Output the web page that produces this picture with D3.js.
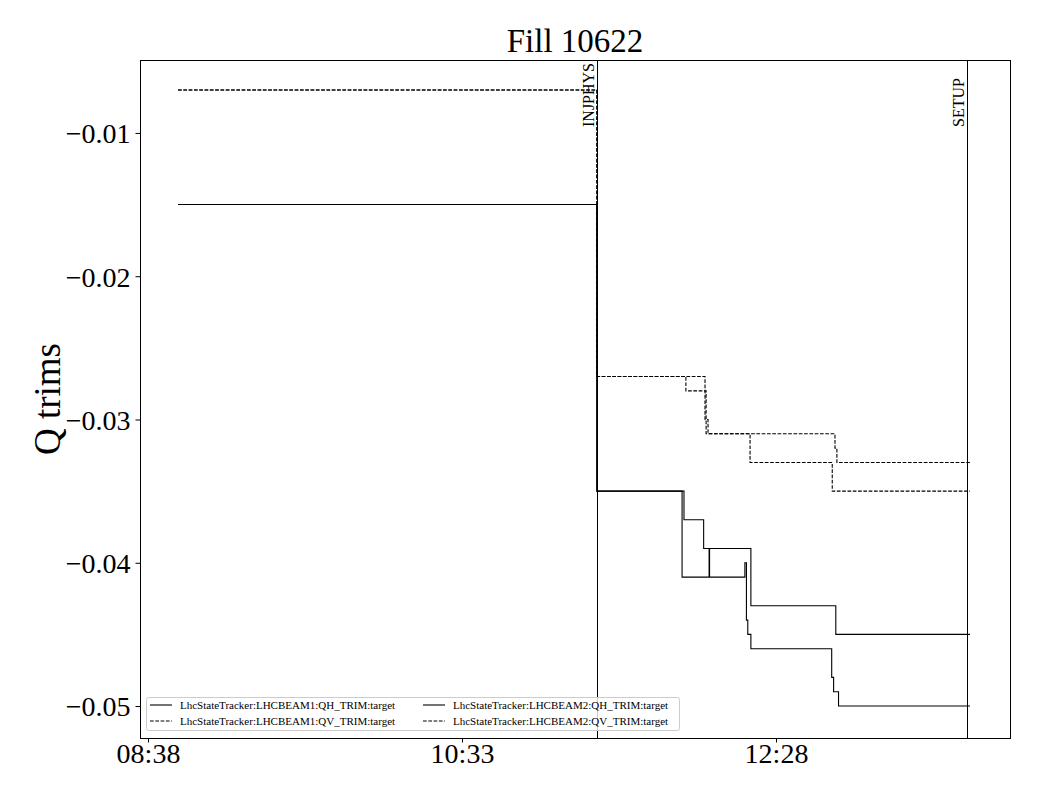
<!DOCTYPE html>
<html><head><meta charset="utf-8">
<script src="https://cdn.jsdelivr.net/npm/d3@7"></script>
<style>body{margin:0;background:#fff} svg{display:block} text{font-family:"Liberation Serif","DejaVu Serif",serif;fill:#000}</style>
</head><body><svg id="c" width="1040" height="800"></svg>
<script>
const title = "Fill 10622";
const yLabel = "Q trims";
const seriesNames = [
  "LhcStateTracker:LHCBEAM1:QH_TRIM:target",
  "LhcStateTracker:LHCBEAM1:QV_TRIM:target",
  "LhcStateTracker:LHCBEAM2:QH_TRIM:target",
  "LhcStateTracker:LHCBEAM2:QV_TRIM:target"
];
const seriesDashed = [false, true, false, true];

const b1qhTimes  = ["08:49:00","11:22:24","11:54:18","12:01:30","12:18:48","12:49:54","13:39:03"];
const b1qhValues = [-0.015, -0.035, -0.037, -0.039, -0.043, -0.045, -0.045];

const b1qvTimes  = ["08:49:00","11:22:24","11:55:00","12:02:24","12:18:30","12:48:36","13:39:03"];
const b1qvValues = [-0.007, -0.027, -0.028, -0.031, -0.033, -0.035, -0.035];

const b2qhTimes  = ["08:49:00","11:22:24","11:53:36","12:03:30","12:03:40","12:16:36","12:17:10","12:17:40","12:18:48","12:48:24","12:49:06","12:50:54","13:39:03"];
const b2qhValues = [-0.015, -0.035, -0.041, -0.039, -0.041, -0.040, -0.044, -0.045, -0.046, -0.048, -0.049, -0.050, -0.050];

const b2qvTimes  = ["08:49:00","11:22:24","12:02:00","12:03:06","12:49:36","12:50:18","13:39:03"];
const b2qvValues = [-0.007, -0.027, -0.030, -0.031, -0.032, -0.033, -0.033];

const eventNames = ["INJPHYS", "SETUP"];
const eventTimes = ["11:22:24", "13:38:00"];

const xDomainTimes = ["08:35:04", "13:53:42"];
const xTickLabels = ["08:38", "10:33", "12:28"];
const yDomain = [-0.05223, -0.00491];
const yTickValues = [-0.01, -0.02, -0.03, -0.04, -0.05];

const parse = d3.timeParse("%H:%M:%S");
const parseHM = d3.timeParse("%H:%M");

const svg = d3.select("#c");
const m = {left:140, right:1010, top:60, bottom:738};

const x = d3.scaleTime().domain(xDomainTimes.map(parse)).range([m.left, m.right]);
const y = d3.scaleLinear().domain(yDomain).range([m.bottom, m.top]);

const seriesTimes = [b1qhTimes, b1qvTimes, b2qhTimes, b2qvTimes];
const seriesValues = [b1qhValues, b1qvValues, b2qhValues, b2qvValues];
const series = seriesNames.map((n,i)=>({name:n, dashed:seriesDashed[i],
  pts: seriesTimes[i].map((t,j)=>({t:parse(t), v:seriesValues[i][j]}))}));

const line = d3.line().x(d=>x(d.t)).y(d=>y(d.v)).curve(d3.curveStepAfter);

const g = svg.append("g");
// event lines
eventNames.forEach((n,i)=>{
  const ex = Math.round(x(parse(eventTimes[i]))) + 0.5;
  g.append("line").attr("x1",ex).attr("x2",ex).attr("y1",m.top).attr("y2",m.bottom)
    .attr("stroke","#000").attr("stroke-width",1);
  g.append("text").attr("transform",`translate(${ex-4},127) rotate(-90)`)
    .attr("text-anchor","start").attr("font-size",16).text(n);
});

series.forEach(s=>{
  g.append("path").attr("d",line(s.pts)).attr("fill","none")
    .attr("stroke","#000").attr("stroke-width",1.1)
    .attr("stroke-dasharray", s.dashed ? "3.7,1.6" : null);
});

// axes
const xAxis = d3.axisBottom(x).tickValues(xTickLabels.map(parseHM)).tickFormat(d3.timeFormat("%H:%M")).tickSize(4.5).tickSizeOuter(0);
const yAxis = d3.axisLeft(y).tickValues(yTickValues).tickFormat(d3.format(".2f")).tickSize(4.5).tickPadding(5).tickSizeOuter(0);
const gx = svg.append("g").attr("transform",`translate(0,${m.bottom})`).call(xAxis);
gx.selectAll("text").attr("font-size",28).attr("y",25).attr("dy","0").attr("font-family","Liberation Serif");
const gy = svg.append("g").attr("transform",`translate(${m.left},0)`).call(yAxis);
gy.selectAll("text").attr("font-size",28).attr("dy","0.35em").attr("font-family","Liberation Serif");
svg.selectAll(".domain").remove();
svg.selectAll(".tick line").attr("stroke","#000");

// frame
svg.append("rect").attr("x",m.left+0.5).attr("y",m.top+0.5).attr("width",m.right-m.left).attr("height",m.bottom-m.top)
  .attr("fill","none").attr("stroke","#000").attr("stroke-width",1);

// title and label
svg.append("text").attr("x",(m.left+m.right)/2).attr("y",52).attr("text-anchor","middle").attr("font-size",33).text(title);
svg.append("text").attr("transform",`translate(60,${(m.top+m.bottom)/2}) rotate(-90)`).attr("text-anchor","middle").attr("font-size",37).text(yLabel);

// legend
const lg = svg.append("g");
lg.append("rect").attr("x",146.5).attr("y",697.5).attr("width",533).attr("height",33).attr("rx",2)
  .attr("fill","rgba(255,255,255,0.8)").attr("stroke","#ccc").attr("stroke-width",1);
const order = [0,1,2,3];
order.forEach((idx,k)=>{
  const col = Math.floor(k/2), row = k%2;
  const lx = 150 + col*273, ly = 705 + row*16;
  lg.append("line").attr("x1",lx).attr("x2",lx+22).attr("y1",ly).attr("y2",ly)
    .attr("stroke","#000").attr("stroke-width",1.1).attr("stroke-dasharray", series[idx].dashed ? "3.7,1.6" : null);
  lg.append("text").attr("x",lx+30).attr("y",ly+4).attr("font-size",11).text(series[idx].name);
});
</script></body></html>
